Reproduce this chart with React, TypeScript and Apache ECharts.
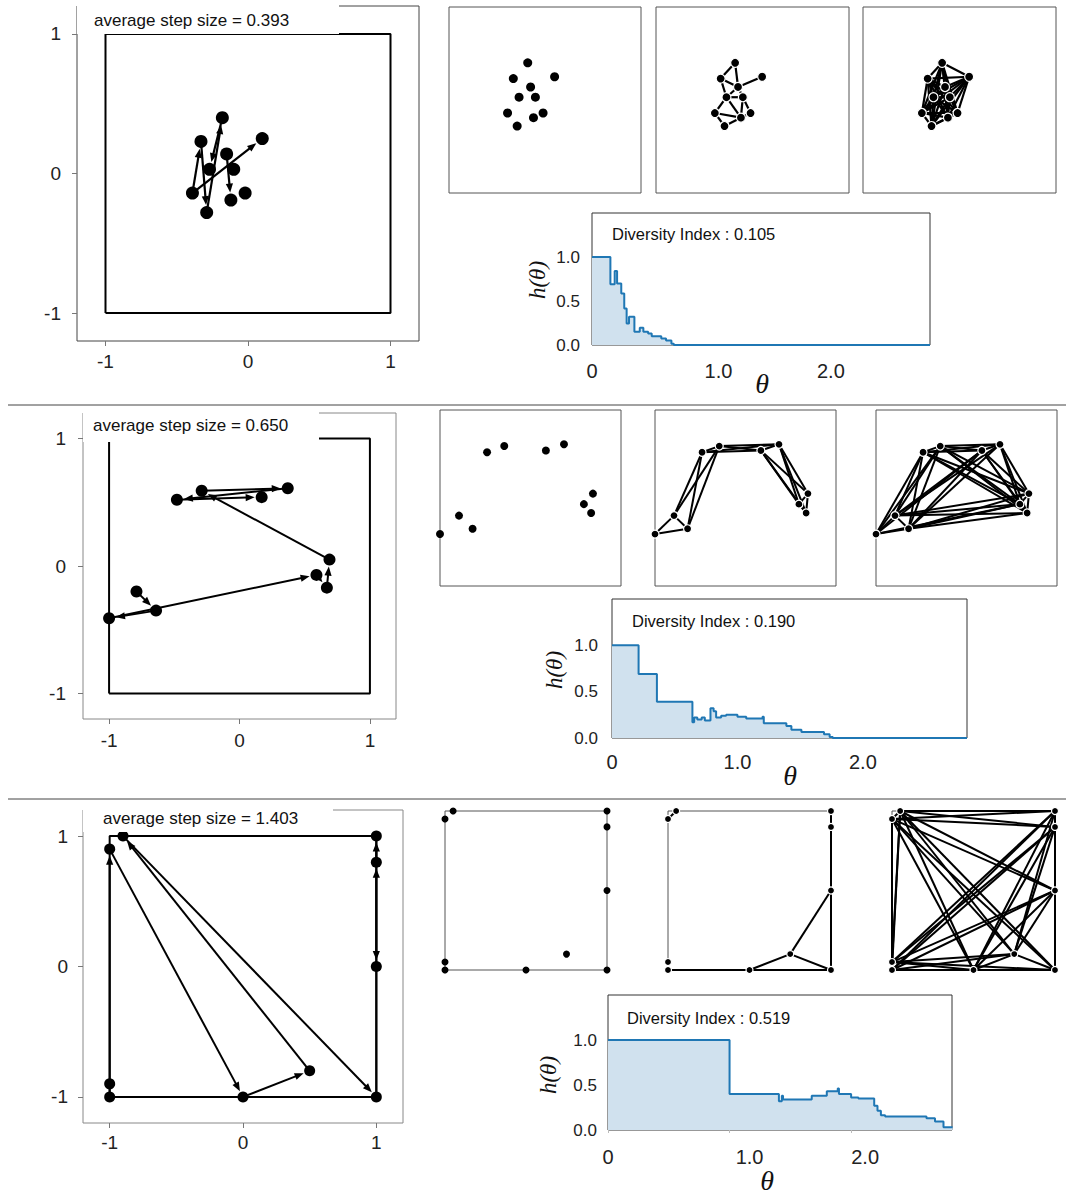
import React, { useEffect, useRef } from 'react';
import * as echarts from 'echarts';

const FONT = '"Liberation Sans", Arial, sans-serif';
const MATH = '"Liberation Serif", "DejaVu Serif", serif';

// ---------------- Row 1 ----------------
const row1X = [-0.39, -0.33, -0.29, -0.18, -0.27, 0.1, -0.15, -0.12, -0.02, -0.1];
const row1Y = [-0.14, 0.23, -0.28, 0.4, 0.03, 0.25, 0.14, -0.19, -0.14, 0.03];
const row1ArrowFrom = [0, 1, 2, 3, 0, 6];
const row1ArrowTo = [1, 2, 3, 4, 5, 7];
const row1StepSize = '0.393';
const row1Diversity = '0.105';
const row1EdgeThresholds = [0.285, 0.7];
const row1Theta = [0, 0.154, 0.19, 0.21, 0.245, 0.27, 0.29, 0.31, 0.355, 0.4, 0.43, 0.47, 0.5, 0.58, 0.62, 0.665, 0.685, 2.83];
const row1H = [1.0, 0.69, 0.84, 0.7, 0.585, 0.415, 0.245, 0.32, 0.15, 0.196, 0.15, 0.13, 0.1, 0.075, 0.05, 0.015, 0, 0];

// ---------------- Row 2 ----------------
const row2X = [-0.79, -0.64, -1.0, 0.59, 0.67, 0.69, -0.29, 0.37, -0.48, 0.17];
const row2Y = [-0.2, -0.35, -0.41, -0.07, -0.17, 0.05, 0.59, 0.61, 0.52, 0.54];
const row2ArrowFrom = [0, 1, 2, 3, 4, 5, 6, 7, 8];
const row2ArrowTo = [1, 2, 3, 4, 5, 6, 7, 8, 9];
const row2StepSize = '0.650';
const row2Diversity = '0.190';
const row2EdgeThresholds = [1.03, 1.65];
const row2Theta = [0, 0.212, 0.358, 0.641, 0.655, 0.68, 0.715, 0.74, 0.785, 0.81, 0.83, 0.87, 0.91, 1.0, 1.07, 1.2, 1.21, 1.39, 1.43, 1.51, 1.69, 1.735, 1.76, 2.83];
const row2H = [1.0, 0.69, 0.39, 0.17, 0.22, 0.2, 0.22, 0.19, 0.32, 0.29, 0.22, 0.24, 0.25, 0.23, 0.21, 0.23, 0.16, 0.13, 0.09, 0.065, 0.04, 0.01, 0, 0];

// ---------------- Row 3 ----------------
const row3X = [-1, -1, 0, 0.5, -0.9, 1, 1, 1, 1, -1];
const row3Y = [-1, 0.9, -1, -0.8, 1, -1, 0.8, 1, 0, -0.9];
const row3ArrowFrom = [0, 1, 2, 3, 4, 5, 6, 7];
const row3ArrowTo = [1, 2, 3, 4, 5, 6, 7, 8];
const row3StepSize = '1.403';
const row3Diversity = '0.519';
const row3EdgeThresholds = [1.001, 3.0];
const row3Theta = [0, 1.0, 1.406, 1.43, 1.44, 1.676, 1.8, 1.89, 1.9, 2.0, 2.06, 2.19, 2.217, 2.245, 2.28, 2.62, 2.69, 2.76, 2.835];
const row3H = [1.0, 0.4, 0.32, 0.38, 0.34, 0.38, 0.43, 0.46, 0.4, 0.36, 0.35, 0.27, 0.215, 0.165, 0.15, 0.13, 0.095, 0.03, 0.03];

// ---------------- shared ----------------
const squareX = [-1, 1, 1, -1, -1];
const squareY = [-1, -1, 1, 1, -1];
const walkTicks = [-1, 0, 1];
const histYTicks = [0, 0.5, 1.0];
const histXTicks = [0, 1, 2];
const histXLabels = ['0', '1.0', '2.0'];

const ROWS = [
  { xs: row1X, ys: row1Y, from: row1ArrowFrom, to: row1ArrowTo, step: row1StepSize, div: row1Diversity, thr: row1EdgeThresholds, theta: row1Theta, h: row1H },
  { xs: row2X, ys: row2Y, from: row2ArrowFrom, to: row2ArrowTo, step: row2StepSize, div: row2Diversity, thr: row2EdgeThresholds, theta: row2Theta, h: row2H },
  { xs: row3X, ys: row3Y, from: row3ArrowFrom, to: row3ArrowTo, step: row3StepSize, div: row3Diversity, thr: row3EdgeThresholds, theta: row3Theta, h: row3H },
];

const LAYOUT = [
  {
    left: { l: 77, t: 6, w: 342, h: 335, frame: '#444', yMargin: 16, xMargin: 11, dot: 13, arrowW: 2.2 },
    box: { x: 77, y: 5, w: 262, h: 29 }, boxText: { x: 94, y: 20 },
    small: [{ l: 449, t: 7, w: 192, h: 186 }, { l: 656, t: 7, w: 193, h: 186 }, { l: 863, t: 7, w: 193, h: 186 }],
    smallDot: 9, smallLine: 2.2,
    hist: { l: 592, t: 213, w: 338, h: 132, yMargin: 12, xMargin: 16, xPad: [0, 14, 0], ticks: false },
    theta: { x: 762, y: 383 }, hLab: { x: 537, y: 280 }, div: { x: 612, y: 234 },
  },
  {
    left: { l: 83, t: 413, w: 313, h: 306, frame: '#888', yMargin: 17, xMargin: 12, dot: 12, arrowW: 2 },
    box: { x: 83, y: 412, w: 236, h: 30 }, boxText: { x: 93, y: 425 },
    small: [{ l: 440, t: 410, w: 181, h: 176 }, { l: 655, t: 410, w: 181, h: 176 }, { l: 876, t: 410, w: 181, h: 176 }],
    smallDot: 8, smallLine: 2,
    hist: { l: 612, t: 599, w: 355, h: 139, yMargin: 14, xMargin: 14, xPad: [0, 0, 0], ticks: false },
    theta: { x: 790, y: 775 }, hLab: { x: 554, y: 670 }, div: { x: 632, y: 621 },
  },
  {
    left: { l: 83, t: 810, w: 320, h: 313, frame: '#888', yMargin: 15, xMargin: 10, dot: 11, arrowW: 2 },
    box: { x: 83, y: 809, w: 250, h: 23 }, boxText: { x: 103, y: 818 },
    small: [{ l: 445, t: 811, w: 162, h: 159 }, { l: 668, t: 811, w: 163, h: 159 }, { l: 892, t: 811, w: 163, h: 159 }],
    smallDot: 7, smallLine: 2,
    hist: { l: 608, t: 995, w: 344, h: 135, yMargin: 11, xMargin: 17, xPad: [0, 40, 28], ticks: true },
    theta: { x: 767, y: 1180 }, hLab: { x: 548, y: 1075 }, div: { x: 627, y: 1018 },
  },
];

const SEPARATORS = [405, 799];

function buildEdges(xs: number[], ys: number[], thr: number) {
  const out: number[][] = [];
  for (let i = 0; i < xs.length; i++) {
    for (let j = i + 1; j < xs.length; j++) {
      const d = Math.hypot(xs[i] - xs[j], ys[i] - ys[j]);
      if (d <= thr) out.push([xs[i], ys[i], xs[j], ys[j]]);
    }
  }
  return out;
}

const arrowRender = (r: number, lw: number) => (_params: any, api: any) => {
  const p0 = api.coord([api.value(0), api.value(1)]);
  const p1 = api.coord([api.value(2), api.value(3)]);
  const dx = p1[0] - p0[0];
  const dy = p1[1] - p0[1];
  const len = Math.hypot(dx, dy) || 1;
  const ux = dx / len;
  const uy = dy / len;
  const tip = [p1[0] - ux * r, p1[1] - uy * r];
  const hl = 9;
  const hw = 3.6;
  const base = [tip[0] - ux * hl, tip[1] - uy * hl];
  return {
    type: 'group',
    children: [
      { type: 'line', shape: { x1: p0[0], y1: p0[1], x2: base[0] + ux, y2: base[1] + uy }, style: { stroke: '#000', lineWidth: lw } },
      {
        type: 'polygon',
        shape: { points: [tip, [base[0] - uy * hw, base[1] + ux * hw], [base[0] + uy * hw, base[1] - ux * hw]] },
        style: { fill: '#000' },
      },
    ],
  };
};

const edgeRender = (lw: number) => (_params: any, api: any) => {
  const p0 = api.coord([api.value(0), api.value(1)]);
  const p1 = api.coord([api.value(2), api.value(3)]);
  return { type: 'line', shape: { x1: p0[0], y1: p0[1], x2: p1[0], y2: p1[1] }, style: { stroke: '#000', lineWidth: lw } };
};

function buildOption() {
  const grids: any[] = [];
  const xAxes: any[] = [];
  const yAxes: any[] = [];
  const series: any[] = [];
  const graphics: any[] = [];

  const addGrid = (g: { l: number; t: number; w: number; h: number }, border: string, show: boolean) => {
    grids.push({
      left: g.l, top: g.t, width: g.w, height: g.h,
      show, borderColor: border, borderWidth: 1, backgroundColor: 'transparent',
      containLabel: false, outerBoundsMode: 'none',
    });
    return grids.length - 1;
  };

  ROWS.forEach((row, r) => {
    const L = LAYOUT[r];
    const pts = row.xs.map((x, i) => [x, row.ys[i]]);

    // ---- left walk panel ----
    const gi = addGrid(L.left, L.left.frame, true);
    const tickStyle = { show: true, customValues: walkTicks, length: 5, lineStyle: { color: '#777', width: 1 } };
    xAxes.push({
      gridIndex: gi, type: 'value', min: -1.2, max: 1.2, position: 'bottom',
      axisLine: { show: false, onZero: false }, splitLine: { show: false }, axisTick: tickStyle,
      axisLabel: { customValues: walkTicks, fontSize: 19, color: '#222', fontFamily: FONT, margin: L.left.xMargin },
    });
    yAxes.push({
      gridIndex: gi, type: 'value', min: -1.2, max: 1.2, position: 'left',
      axisLine: { show: false, onZero: false }, splitLine: { show: false }, axisTick: tickStyle,
      axisLabel: { customValues: walkTicks, fontSize: 19, color: '#222', fontFamily: FONT, margin: L.left.yMargin },
    });
    series.push({
      type: 'line', xAxisIndex: gi, yAxisIndex: gi, data: squareX.map((x, i) => [x, squareY[i]]),
      symbol: 'none', lineStyle: { color: '#000', width: 2 }, z: 2, silent: true,
    });
    series.push({
      type: 'custom', xAxisIndex: gi, yAxisIndex: gi, clip: false, z: 3, silent: true,
      renderItem: arrowRender(L.left.dot / 2 + 1, L.left.arrowW),
      encode: { x: [0, 2], y: [1, 3] },
      data: row.from.map((f, k) => [row.xs[f], row.ys[f], row.xs[row.to[k]], row.ys[row.to[k]]]),
    });
    series.push({
      type: 'scatter', xAxisIndex: gi, yAxisIndex: gi, data: pts, symbolSize: L.left.dot, clip: false,
      itemStyle: { color: '#000', opacity: 1 }, z: 4, silent: true,
    });

    // ---- three small graph panels ----
    L.small.forEach((sg, k) => {
      const si = addGrid(sg, '#555', true);
      xAxes.push({ gridIndex: si, type: 'value', min: -1, max: 1, show: false, splitLine: { show: false }, axisLine: { onZero: false } });
      yAxes.push({ gridIndex: si, type: 'value', min: -1, max: 1, show: false, splitLine: { show: false }, axisLine: { onZero: false } });
      if (k > 0) {
        series.push({
          type: 'custom', xAxisIndex: si, yAxisIndex: si, clip: false, z: 3, silent: true,
          renderItem: edgeRender(L.smallLine), encode: { x: [0, 2], y: [1, 3] },
          data: buildEdges(row.xs, row.ys, row.thr[k - 1]),
        });
      }
      series.push({
        type: 'scatter', xAxisIndex: si, yAxisIndex: si, data: pts, symbolSize: L.smallDot, clip: false,
        itemStyle: k > 0 ? { color: '#000', borderColor: '#fff', borderWidth: 1.2, opacity: 1 } : { color: '#000', opacity: 1 },
        z: 4, silent: true,
      });
    });

    // ---- h(theta) panel ----
    const H = L.hist;
    const hi = addGrid(H, '#333', true);
    const rich: any = {};
    histXTicks.forEach((_, i) => {
      rich['p' + i] = { fontSize: 20, fontFamily: FONT, color: '#222', padding: [0, 0, 0, H.xPad[i]] };
    });
    xAxes.push({
      gridIndex: hi, type: 'value', min: 0, max: 2.83, position: 'bottom',
      axisLine: { show: false, onZero: false }, splitLine: { show: false },
      axisTick: { show: H.ticks, customValues: histXTicks, length: 3, inside: false, lineStyle: { color: '#bbb' } },
      axisLabel: {
        customValues: histXTicks, margin: H.xMargin,
        formatter: (v: number) => {
          const i = histXTicks.indexOf(v);
          return '{p' + i + '|' + histXLabels[i] + '}';
        },
        rich,
      },
    });
    yAxes.push({
      gridIndex: hi, type: 'value', min: 0, max: 1.5, position: 'left',
      axisLine: { show: false, onZero: false }, splitLine: { show: false }, axisTick: { show: false },
      axisLabel: {
        customValues: histYTicks, margin: H.yMargin, fontSize: 17, color: '#222', fontFamily: FONT,
        formatter: (v: number) => v.toFixed(1),
      },
    });
    series.push({
      type: 'line', xAxisIndex: hi, yAxisIndex: hi, step: 'end', symbol: 'none', silent: true,
      data: row.theta.map((t, i) => [t, row.h[i]]),
      lineStyle: { color: '#1f77b4', width: 2 },
      areaStyle: { color: '#d0e1ee', opacity: 1 },
      z: 2,
    });

    // ---- texts ----
    graphics.push({
      type: 'rect', z: 100, shape: { x: L.box.x, y: L.box.y, width: L.box.w, height: L.box.h },
      style: { fill: '#fff', stroke: null },
    });
    graphics.push({
      type: 'text', z: 101, x: L.boxText.x, y: L.boxText.y,
      style: {
        text: 'average step size = ' + row.step, fontSize: 17, fontFamily: FONT, fill: '#111',
        align: 'left', textAlign: 'left', verticalAlign: 'middle', textVerticalAlign: 'middle',
      },
    });
    graphics.push({
      type: 'text', z: 101, x: L.div.x, y: L.div.y,
      style: {
        text: 'Diversity Index : ' + row.div, fontSize: 16.5, fontFamily: FONT, fill: '#111',
        align: 'left', textAlign: 'left', verticalAlign: 'middle', textVerticalAlign: 'middle',
      },
    });
    graphics.push({
      type: 'text', z: 101, x: L.theta.x, y: L.theta.y,
      style: {
        text: 'θ', fontSize: 28, fontFamily: MATH, fontStyle: 'italic', fill: '#111',
        align: 'center', textAlign: 'center', verticalAlign: 'middle', textVerticalAlign: 'middle',
      },
    });
    graphics.push({
      type: 'text', z: 101, x: L.hLab.x, y: L.hLab.y, rotation: Math.PI / 2,
      style: {
        text: 'h(θ)', fontSize: 23, fontFamily: MATH, fontStyle: 'italic', fill: '#111',
        align: 'center', textAlign: 'center', verticalAlign: 'middle', textVerticalAlign: 'middle',
      },
    });
  });

  SEPARATORS.forEach((y) => {
    graphics.push({
      type: 'line', z: 100, shape: { x1: 8, y1: y, x2: 1066, y2: y },
      style: { stroke: '#444', lineWidth: 1 },
    });
  });

  return {
    animation: false,
    backgroundColor: '#fff',
    grid: grids,
    xAxis: xAxes,
    yAxis: yAxes,
    series,
    graphic: { elements: graphics },
  };
}

export default function App() {
  const ref = useRef<HTMLDivElement>(null);
  useEffect(() => {
    if (!ref.current) return;
    const chart = echarts.init(ref.current, undefined, { renderer: 'svg' });
    chart.setOption(buildOption() as any);
    return () => chart.dispose();
  }, []);
  return (
    <div
      ref={ref}
      style={{ position: 'fixed', left: 0, top: 0, width: 1066, height: 1195, background: '#fff' }}
    />
  );
}
